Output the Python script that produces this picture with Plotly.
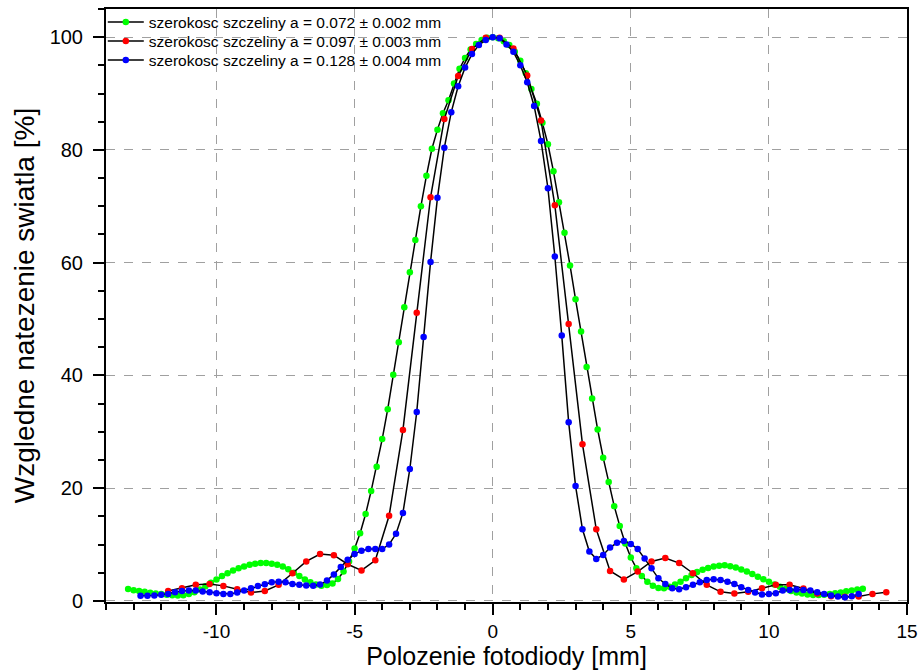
import plotly.graph_objects as go

# ---------------- data ----------------
green_x = [
    -13.2, -13.0, -12.8, -12.6, -12.4, -12.2, -12.0, -11.8, -11.6, -11.4,
    -11.2, -11.0, -10.8, -10.6, -10.4, -10.2, -10.0, -9.8, -9.6, -9.4,
    -9.2, -9.0, -8.8, -8.6, -8.4, -8.2, -8.0, -7.8, -7.6, -7.4,
    -7.2, -7.0, -6.8, -6.6, -6.4, -6.2, -6.0, -5.8, -5.6, -5.4,
    -5.2, -5.0, -4.8, -4.6, -4.4, -4.2, -4.0, -3.8, -3.6, -3.4,
    -3.2, -3.0, -2.8, -2.6, -2.4, -2.2, -2.0, -1.8, -1.6, -1.4,
    -1.2, -1.0, -0.8, -0.6, -0.4, -0.2, 0.0, 0.2, 0.4, 0.6,
    0.8, 1.0, 1.2, 1.4, 1.6, 1.8, 2.0, 2.2, 2.4, 2.6,
    2.8, 3.0, 3.2, 3.4, 3.6, 3.8, 4.0, 4.2, 4.4, 4.6,
    4.8, 5.0, 5.2, 5.4, 5.6, 5.8, 6.0, 6.2, 6.4, 6.6,
    6.8, 7.0, 7.2, 7.4, 7.6, 7.8, 8.0, 8.2, 8.4, 8.6,
    8.8, 9.0, 9.2, 9.4, 9.6, 9.8, 10.0, 10.2, 10.4, 10.6,
    10.8, 11.0, 11.2, 11.4, 11.6, 11.8, 12.0, 12.2, 12.4, 12.6,
    12.8, 13.0, 13.2, 13.4,
]
green_y = [
    2.1, 1.9, 1.75, 1.6, 1.45, 1.3, 1.2, 1.1, 1.0, 0.95,
    1.0, 1.2, 1.55, 2.0, 2.6, 3.2, 3.8, 4.4, 4.9, 5.4,
    5.8, 6.1, 6.4, 6.6, 6.7, 6.7, 6.6, 6.4, 6.1, 5.6,
    5.0, 4.4, 3.8, 3.3, 2.9, 2.7, 2.8, 3.1, 3.9, 5.2,
    7.0, 9.3, 12.0, 15.4, 19.5, 23.8, 28.7, 34.0, 40.1, 45.9,
    52.1, 58.3, 64.0, 70.0, 75.4, 80.2, 83.6, 86.5, 88.8, 91.8,
    94.4, 96.3, 97.8, 98.8, 99.5, 99.9, 100.0, 99.8, 99.3, 98.6,
    97.4, 95.8, 93.6, 90.8, 88.2, 84.8, 81.0, 76.2, 70.7, 65.3,
    59.5, 53.5, 47.8, 41.5, 35.9, 30.4, 25.4, 21.1, 16.8, 13.3,
    10.2, 7.7, 5.8, 4.4, 3.4, 2.7, 2.3, 2.25, 2.5, 2.9,
    3.4, 4.0, 4.6, 5.1, 5.5, 5.85, 6.1, 6.25, 6.3, 6.15,
    5.9, 5.55, 5.2, 4.75, 4.3, 3.85, 3.4, 2.9, 2.5, 2.1,
    1.75, 1.5, 1.3, 1.15, 1.05, 1.05, 1.1, 1.2, 1.35, 1.5,
    1.7, 1.85, 2.0, 2.15,
]

red_x = [
    -11.75, -11.25, -10.75, -10.25, -9.75, -9.25, -8.75, -8.25, -7.75, -7.25,
    -6.75, -6.25, -5.75, -5.25, -4.75, -4.25, -3.75, -3.25, -2.75, -2.25,
    -1.75, -1.25, -0.75, -0.25, 0.25, 0.75, 1.25, 1.75, 2.25, 2.75,
    3.25, 3.75, 4.25, 4.75, 5.25, 5.75, 6.25, 6.75, 7.25, 7.75,
    8.25, 8.75, 9.25, 9.75, 10.25, 10.75, 11.25, 11.75, 12.25, 12.75,
    13.25, 13.75, 14.25,
]
red_y = [
    1.77, 2.25, 2.84, 3.0, 2.66, 2.07, 1.48, 1.77, 2.84, 4.9,
    7.0, 8.3, 8.1, 6.5, 5.4, 7.2, 15.1, 30.3, 51.1, 71.6,
    85.5, 93.1, 97.9, 99.9, 99.9, 98.0, 93.2, 85.2, 70.2, 49.1,
    27.8, 12.7, 5.3, 3.8, 5.2, 7.0, 7.6, 6.7, 4.9, 2.84,
    1.6, 1.3, 1.6, 2.25, 2.84, 2.84, 2.2, 1.3, 0.8, 0.75,
    0.77, 1.24, 1.54,
]

blue_x = [
    -12.75, -12.5, -12.25, -12.0, -11.75, -11.5, -11.25, -11.0, -10.75, -10.5,
    -10.25, -10.0, -9.75, -9.5, -9.25, -9.0, -8.75, -8.5, -8.25, -8.0,
    -7.75, -7.5, -7.25, -7.0, -6.75, -6.5, -6.25, -6.0, -5.75, -5.5,
    -5.25, -5.0, -4.75, -4.5, -4.25, -4.0, -3.75, -3.5, -3.25, -3.0,
    -2.75, -2.5, -2.25, -2.0, -1.75, -1.5, -1.25, -1.0, -0.75, -0.5,
    -0.25, 0.0, 0.25, 0.5, 0.75, 1.0, 1.25, 1.5, 1.75, 2.0,
    2.25, 2.5, 2.75, 3.0, 3.25, 3.5, 3.75, 4.0, 4.25, 4.5,
    4.75, 5.0, 5.25, 5.5, 5.75, 6.0, 6.25, 6.5, 6.75, 7.0,
    7.25, 7.5, 7.75, 8.0, 8.25, 8.5, 8.75, 9.0, 9.25, 9.5,
    9.75, 10.0, 10.25, 10.5, 10.75, 11.0, 11.25, 11.5, 11.75, 12.0,
    12.25, 12.5, 12.75, 13.0, 13.25,
]
blue_y = [
    0.89, 0.89, 0.95, 1.07, 1.24, 1.54, 1.77, 1.83, 1.83, 1.66,
    1.54, 1.36, 1.24, 1.24, 1.48, 1.83, 2.25, 2.66, 2.96, 3.3,
    3.4, 3.3, 3.0, 2.84, 2.72, 2.7, 2.9, 3.6, 4.7, 6.0,
    7.3, 8.3, 8.9, 9.2, 9.2, 9.2, 10.0, 11.9, 15.6, 23.4,
    33.5, 46.8, 60.1, 71.5, 80.4, 86.7, 91.3, 94.6, 97.0, 98.6,
    99.5, 100.0, 99.8, 98.7, 97.4, 95.0, 92.0, 87.8, 81.6, 73.2,
    61.1, 47.1, 31.7, 20.4, 12.7, 8.75, 7.45, 8.15, 9.45, 10.3,
    10.6, 10.1, 9.2, 7.5, 5.8, 4.0, 3.0, 2.25, 2.07, 2.4,
    2.84, 3.3, 3.7, 3.84, 3.7, 3.4, 3.0, 2.4, 1.95, 1.5,
    1.15, 1.24, 1.36, 1.83, 1.95, 2.0, 1.95, 1.83, 1.54, 1.24,
    0.95, 0.77, 0.65, 0.8, 1.24,
]

series_names = [
    "szerokosc szczeliny a = 0.072 \u00b1 0.002 mm",
    "szerokosc szczeliny a = 0.097 \u00b1 0.003 mm",
    "szerokosc szczeliny a = 0.128 \u00b1 0.004 mm",
]
series_colors = ["#00ff00", "#ff0000", "#0000ff"]

x_tickvals = [-10, -5, 0, 5, 10, 15]
x_ticktext = ["-10", "-5", "0", "5", "10", "15"]
y_tickvals = [0, 20, 40, 60, 80, 100]
y_ticktext = ["0", "20", "40", "60", "80", "100"]

x_title = "Polozenie fotodiody [mm]"
y_title = "Wzgledne natezenie swiatla [%]"

# ---------------- figure ----------------
FONT = "Liberation Sans, Arial, sans-serif"
PLOT_TOP, PLOT_BOTTOM = 9, 602
legend_ids = ["legend", "legend2", "legend3"]
legend_rows_px = [22.5, 41.5, 60.5]

fig = go.Figure()
for xs, ys, name, col, lg in zip([green_x, red_x, blue_x], [green_y, red_y, blue_y],
                                 series_names, series_colors, legend_ids):
    fig.add_trace(go.Scatter(
        x=xs, y=ys, name=name, mode="lines+markers", legend=lg,
        line=dict(color="black", width=1.5),
        marker=dict(color=col, size=6.5, line=dict(width=0)),
    ))

axis_common = dict(
    showline=True, linecolor="black", linewidth=2, mirror=True,
    ticks="outside", tickcolor="black", tickwidth=2, ticklen=11,
    showgrid=True, gridcolor="#a0a0a0", griddash="dash", gridwidth=1,
    zeroline=False, automargin=False,
)

fig.update_xaxes(
    range=[-14, 15], tickmode="array", tickvals=x_tickvals, ticktext=x_ticktext,
    ticklabelstandoff=0,
    tickfont=dict(family=FONT, size=19, color="black"),
    minor=dict(dtick=1, tick0=0, ticks="outside", ticklen=6, tickwidth=1.5,
               tickcolor="black", showgrid=False),
    title=dict(text=x_title, font=dict(family=FONT, size=25, color="black"), standoff=9),
    **axis_common,
)
fig.update_yaxes(
    range=[-0.2, 105], tickmode="array", tickvals=y_tickvals, ticktext=y_ticktext,
    ticklabelstandoff=6,
    tickfont=dict(family=FONT, size=20, color="black"),
    minor=dict(dtick=5, tick0=0, ticks="outside", ticklen=6, tickwidth=1.5,
               tickcolor="black", showgrid=False),
    title=dict(text=y_title, font=dict(family=FONT, size=28, color="black"), standoff=7),
    **axis_common,
)

legend_style = dict(
    x=-0.004, xanchor="left", yanchor="middle",
    bgcolor="rgba(0,0,0,0)", borderwidth=0,
    font=dict(family=FONT, size=15.5, color="black"),
    itemwidth=36,
)
layout_legends = {}
for lg, ypx in zip(legend_ids, legend_rows_px):
    layout_legends[lg] = dict(
        y=(PLOT_BOTTOM - ypx) / (PLOT_BOTTOM - PLOT_TOP), **legend_style)

fig.update_layout(
    width=922, height=670,
    margin=dict(l=106, r=15, t=PLOT_TOP, b=670 - PLOT_BOTTOM, autoexpand=False),
    paper_bgcolor="white", plot_bgcolor="white",
    showlegend=True,
    **layout_legends,
)

fig.write_html("out.html")
